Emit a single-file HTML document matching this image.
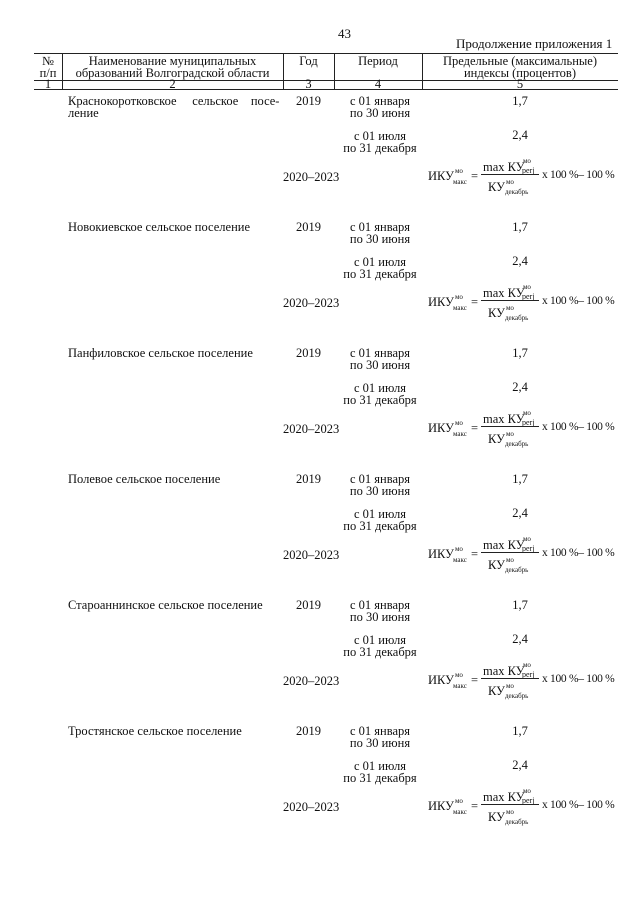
<!DOCTYPE html>
<html><head><meta charset="utf-8"><style>
body{margin:0;background:#fff;}
#p{position:relative;width:640px;height:905px;font-family:"Liberation Serif",serif;font-size:12.5px;color:#111;overflow:hidden}
.t{position:absolute;white-space:nowrap;line-height:12px}
.c{text-align:center}
.h{position:absolute;height:1px;background:#222}
.v{position:absolute;width:1px;background:#222}
sup,sub{font-size:7px;line-height:0}
</style></head><body><div id="p">
<div class="t" style="left:338px;top:28px;font-size:13px">43</div>
<div class="t" style="left:456px;top:38px;font-size:13px">Продолжение приложения 1</div>
<div class="h" style="left:34px;top:53px;width:584px"></div>
<div class="h" style="left:34px;top:80px;width:584px"></div>
<div class="h" style="left:34px;top:89px;width:584px"></div>
<div class="v" style="left:62px;top:53px;height:36px"></div>
<div class="v" style="left:283px;top:53px;height:36px"></div>
<div class="v" style="left:334px;top:53px;height:36px"></div>
<div class="v" style="left:422px;top:53px;height:36px"></div>
<div class="t c" style="left:34px;top:55px;width:28px">№<br>п/п</div>
<div class="t c" style="left:62px;top:55px;width:221px">Наименование муниципальных<br>образований Волгоградской области</div>
<div class="t c" style="left:283px;top:55px;width:51px">Год</div>
<div class="t c" style="left:334px;top:55px;width:88px">Период</div>
<div class="t c" style="left:422px;top:55px;width:196px">Предельные (максимальные)<br>индексы (процентов)</div>
<div class="t c" style="left:34px;top:79px;width:28px;line-height:10px">1</div>
<div class="t c" style="left:62px;top:79px;width:221px;line-height:10px">2</div>
<div class="t c" style="left:283px;top:79px;width:51px;line-height:10px">3</div>
<div class="t c" style="left:334px;top:79px;width:88px;line-height:10px">4</div>
<div class="t c" style="left:422px;top:79px;width:196px;line-height:10px">5</div>
<div id="blocks"></div>
</div>
<script>
var names=[["Краснокоротковское&nbsp;&nbsp;&nbsp;&nbsp;&nbsp;сельское&nbsp;&nbsp;&nbsp;&nbsp;посе-","ление"],["Новокиевское сельское поселение"],["Панфиловское сельское поселение"],["Полевое сельское поселение"],["Староаннинское сельское поселение"],["Тростянское сельское поселение"]];
var tops=[95,221,347,473,599,725],h="";
for(var i=0;i<6;i++){var y=tops[i];
h+='<div class="t" style="left:68px;top:'+y+'px">'+names[i].join("<br>")+'</div>';
h+='<div class="t c" style="left:283px;top:'+y+'px;width:51px">2019</div>';
h+='<div class="t c" style="left:336px;top:'+y+'px;width:88px">с 01 января<br>по 30 июня</div>';
h+='<div class="t c" style="left:420px;top:'+y+'px;width:200px">1,7</div>';
h+='<div class="t c" style="left:336px;top:'+(y+35)+'px;width:88px">с 01 июля<br>по 31 декабря</div>';
h+='<div class="t c" style="left:420px;top:'+(y+34)+'px;width:200px">2,4</div>';
h+='<div class="t" style="left:283px;top:'+(y+76)+'px">2020–2023</div>';
h+='<div class="t" style="left:428px;top:'+(y+75)+'px">ИКУ</div>';
h+='<div class="t" style="left:455px;top:'+(y+70)+'px;font-size:7px">мо</div>';
h+='<div class="t" style="left:453px;top:'+(y+81)+'px;font-size:7px">макс</div>';
h+='<div class="t" style="left:471px;top:'+(y+75)+'px">=</div>';
h+='<div class="t" style="left:483px;top:'+(y+66)+'px">max КУ</div>';
h+='<div class="t" style="left:523px;top:'+(y+60)+'px;font-size:7px">мо</div>';
h+='<div class="t" style="left:522px;top:'+(y+70)+'px;font-size:8px">perj</div>';
h+='<div class="h" style="left:481px;top:'+(y+79)+'px;width:58px"></div>';
h+='<div class="t" style="left:488px;top:'+(y+86)+'px">КУ</div>';
h+='<div class="t" style="left:506px;top:'+(y+81)+'px;font-size:7px">мо</div>';
h+='<div class="t" style="left:505px;top:'+(y+91)+'px;font-size:7px">декабрь</div>';
h+='<div class="t" style="left:542px;top:'+(y+74)+'px;font-size:11.5px;letter-spacing:-0.3px">x 100 %– 100 %</div>';
}
document.getElementById("blocks").innerHTML=h;
</script>
</body></html>
